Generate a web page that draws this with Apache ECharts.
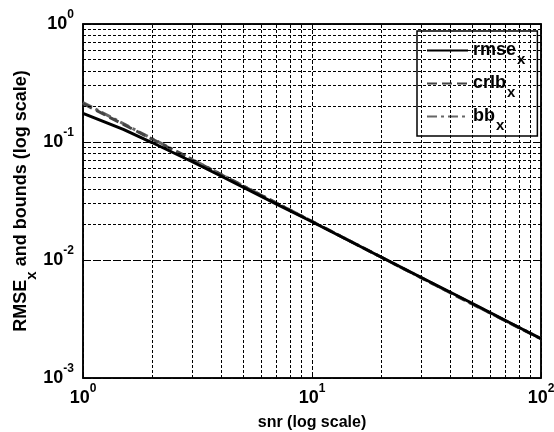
<!DOCTYPE html>
<html>
<head>
<meta charset="utf-8">
<script src="https://cdn.jsdelivr.net/npm/echarts@6/dist/echarts.min.js"></script>
<style>
  html, body { margin: 0; padding: 0; background: #fff; }
  #main { width: 554px; height: 432px; }
</style>
</head>
<body>
<div id="main"></div>
<script>
// data
var snr  = [1, 1.5, 2, 3, 4, 5, 7, 10, 20, 50, 100];
var rmse = [0.175, 0.128, 0.099, 0.068, 0.0515, 0.0415, 0.0298, 0.0211, 0.0106, 0.0043, 0.00215];
var crlb = [0.212, 0.141, 0.106, 0.0707, 0.053, 0.0424, 0.0303, 0.0212, 0.0106, 0.00424, 0.00215];
var bb   = [0.216, 0.143, 0.107, 0.0712, 0.0533, 0.0426, 0.0304, 0.0213, 0.0106, 0.00425, 0.00216];
var minorX = [2, 3, 4, 5, 6, 7, 8, 9, 20, 30, 40, 50, 60, 70, 80, 90];
var minorY = [0.002, 0.003, 0.004, 0.005, 0.006, 0.007, 0.008, 0.009,
              0.02, 0.03, 0.04, 0.05, 0.06, 0.07, 0.08, 0.09,
              0.2, 0.3, 0.4, 0.5, 0.6, 0.7, 0.8, 0.9];

var myChart = echarts.init(document.getElementById('main'));

function pairs(ys) {
  return snr.map(function (x, i) { return [x, ys[i]]; });
}
function powLabel(v) {
  var e = Math.round(Math.log10(v));
  return '{b|10}{s|' + e + '}';
}
var font = 'Liberation Sans, Arial, sans-serif';
var labelRich = {
  b: { fontSize: 18, fontWeight: 'bold', fontFamily: font, color: '#000', lineHeight: 20 },
  s: { fontSize: 12, fontWeight: 'bold', fontFamily: font, color: '#000', lineHeight: 14, padding: [0, 0, 18, 0] }
};
var minorLine = { color: '#000', width: 1, type: [3, 2] };

var markLines = [];
minorX.forEach(function (v) { markLines.push({ xAxis: v }); });
minorY.forEach(function (v) { markLines.push({ yAxis: v }); });

var option = {
  animation: false,
  backgroundColor: '#fff',
  grid: {
    left: 83, right: 13, top: 24, bottom: 54, outerBoundsMode: 'none',
    show: true, borderColor: '#000', borderWidth: 1.5, backgroundColor: '#fff'
  },
  legend: {
    orient: 'vertical',
    left: 417, top: 31,
    padding: [3, 12, 3, 9],
    itemGap: 0,
    itemWidth: 41, itemHeight: 14,
    backgroundColor: '#fff',
    borderColor: '#000', borderWidth: 1.5,
    itemStyle: { opacity: 0 },
    data: ['rmse', 'crlb', 'bb'],
    formatter: function (name) { return '{a|' + name + '}{s|x}'; },
    textStyle: {
      rich: {
        a: { fontSize: 18, fontWeight: 'bold', fontFamily: font, color: '#000', lineHeight: 20 },
        s: { fontSize: 15, fontWeight: 'bold', fontFamily: font, color: '#000', lineHeight: 16, padding: [18, 0, 0, 1] }
      }
    }
  },
  xAxis: [{
    type: 'log', logBase: 10, min: 1, max: 100,
    name: 'snr (log scale)', nameLocation: 'middle', nameGap: 37, nameMoveOverlap: false,
    nameTextStyle: { fontSize: 16, fontWeight: 'bold', fontFamily: font, color: '#000' },
    axisLine: { show: true, lineStyle: { color: '#000', width: 1.5 } },
    axisTick: { inside: true, length: 5, lineStyle: { color: '#000' } },
    axisLabel: { formatter: powLabel, rich: labelRich, margin: 10 },
    splitLine: { show: true, lineStyle: { color: '#000', width: 1, type: [4, 2] } }
  }, {
    type: 'log', logBase: 10, min: 1, max: 100, position: 'top',
    axisLine: { show: true, lineStyle: { color: '#000', width: 1.5 } },
    axisTick: { inside: true, length: 5, lineStyle: { color: '#000' } },
    axisLabel: { show: false }, splitLine: { show: false }
  }],
  yAxis: [{
    type: 'log', logBase: 10, min: 0.001, max: 1,
    name: '{a|RMSE}{s|x}{a| and bounds (log scale)}', nameLocation: 'middle', nameGap: 52, nameMoveOverlap: false,
    nameTextStyle: {
      rich: {
        a: { fontSize: 18, fontWeight: 'bold', fontFamily: font, color: '#000', lineHeight: 20 },
        s: { fontSize: 15, fontWeight: 'bold', fontFamily: font, color: '#000', lineHeight: 16, padding: [22, 0, 0, 0] }
      }
    },
    axisLine: { show: true, lineStyle: { color: '#000', width: 1.5 } },
    axisTick: { inside: true, length: 5, lineStyle: { color: '#000' } },
    axisLabel: { formatter: powLabel, rich: labelRich, margin: 9 },
    splitLine: { show: true, lineStyle: { color: '#000', width: 1, type: [8, 2] } }
  }, {
    type: 'log', logBase: 10, min: 0.001, max: 1, position: 'right',
    axisLine: { show: true, lineStyle: { color: '#000', width: 1.5 } },
    axisTick: { inside: true, length: 5, lineStyle: { color: '#000' } },
    axisLabel: { show: false }, splitLine: { show: false }
  }],
  series: [{
    name: 'grid', type: 'line', data: [], silent: true,
    markLine: { silent: true, symbol: 'none', label: { show: false }, lineStyle: minorLine, data: markLines }
  }, {
    name: 'rmse', type: 'line', data: pairs(rmse), symbol: 'none', z: 5,
    itemStyle: { color: '#000' },
    lineStyle: { color: '#000', width: 3, type: 'solid' }
  }, {
    name: 'crlb', type: 'line', data: pairs(crlb), symbol: 'none', z: 4,
    itemStyle: { color: '#444' },
    lineStyle: { color: '#444', width: 3, type: [10, 5] }
  }, {
    name: 'bb', type: 'line', data: pairs(bb), symbol: 'none', z: 3,
    itemStyle: { color: '#666' },
    lineStyle: { color: '#666', width: 3, type: [10, 4, 3, 4] }
  }]
};

myChart.setOption(option);
</script>
</body>
</html>
